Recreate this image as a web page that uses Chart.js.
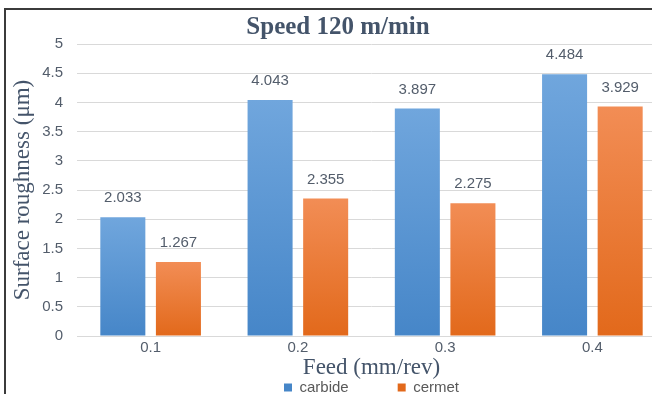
<!DOCTYPE html>
<html>
<head>
    <meta charset="UTF-8">
    <title>Speed 120 m/min</title>
    <style>
        html, body {
            margin: 0;
            padding: 0;
            background-color: white;
            overflow: hidden;
        }
        #wrap {
            position: relative;
            width: 652px;
            height: 394px;
            overflow: hidden;
        }
        /* frame of the original figure, cut at right and bottom */
        #frame {
            position: absolute;
            left: 4px;
            top: 8px;
            width: 700px;
            height: 420px;
            border-left: 2px solid #3b3b3b;
            border-top: 2px solid #3b3b3b;
        }
        #chartBox {
            position: absolute;
            left: 0;
            top: 0;
            width: 684px;
            height: 405px;
        }
    </style>
    <script src="https://cdn.jsdelivr.net/npm/chart.js"></script>
</head>
<body>
<div id="wrap">
    <div id="frame"></div>
    <div id="chartBox">
        <canvas id="barChart" width="684" height="405"></canvas>
    </div>
</div>
<script>
    // values
    const feeds = ['0.1', '0.2', '0.3', '0.4'];
    const carbide = [2.033, 4.043, 3.897, 4.484];
    const cermet = [1.267, 2.355, 2.275, 3.929];

    const textColor = '#535d6b';
    const titleColor = '#44546a';

    // light at the top of each bar, darker at the base
    function barGradient(top, bottom) {
        return function (context) {
            const chart = context.chart;
            const yScale = chart.scales.y;
            if (context.type !== 'data' || !yScale) return bottom;
            const yTop = yScale.getPixelForValue(context.raw);
            const yBase = yScale.getPixelForValue(0);
            const g = chart.ctx.createLinearGradient(0, yTop, 0, yBase);
            g.addColorStop(0, top);
            g.addColorStop(1, bottom);
            return g;
        };
    }

    // value printed above every bar
    const valueLabels = {
        id: 'valueLabels',
        afterDatasetsDraw(chart) {
            const ctx = chart.ctx;
            ctx.save();
            ctx.font = '15px "Liberation Sans", Arial, sans-serif';
            ctx.fillStyle = textColor;
            ctx.textAlign = 'center';
            ctx.textBaseline = 'middle';
            chart.data.datasets.forEach(function (ds, i) {
                chart.getDatasetMeta(i).data.forEach(function (bar, j) {
                    ctx.fillText(ds.data[j].toFixed(3), bar.x, bar.y - 19);
                });
            });
            ctx.restore();
        }
    };

    const ctx = document.getElementById('barChart');
    const chart = new Chart(ctx, {
        type: 'bar',
        data: {
            labels: feeds,
            datasets: [{
                label: 'carbide\u2003\u2003\u2003',
                data: carbide,
                backgroundColor: barGradient('#70a6dd', '#4686c8'),
                barPercentage: 0.81,
                categoryPercentage: 0.755
            }, {
                label: 'cermet',
                data: cermet,
                backgroundColor: barGradient('#f28d55', '#e2691b'),
                barPercentage: 0.81,
                categoryPercentage: 0.755
            }]
        },
        options: {
            responsive: false,
            animation: false,
            layout: {
                padding: { left: 10, right: 18, top: 0, bottom: 0 }
            },
            plugins: {
                title: {
                    display: true,
                    text: 'Speed 120 m/min',
                    color: titleColor,
                    font: { family: '"Liberation Serif", "Times New Roman", serif', size: 25, weight: 'bold', lineHeight: 1.2 },
                    padding: { top: 13, bottom: 1 }
                },
                legend: {
                    position: 'bottom',
                    fullSize: false,
                    labels: {
                        boxWidth: 8,
                        boxHeight: 8,
                        padding: 4,
                        color: '#595959',
                        font: { family: '"Liberation Sans", Arial, sans-serif', size: 15 }
                    }
                },
                tooltip: { enabled: false }
            },
            scales: {
                x: {
                    grid: { display: false, drawTicks: false },
                    border: { display: true, color: '#d9d9d9' },
                    ticks: {
                        color: textColor,
                        padding: 3,
                        font: { family: '"Liberation Sans", Arial, sans-serif', size: 15 }
                    },
                    title: {
                        display: true,
                        text: 'Feed (mm/rev)',
                        color: titleColor,
                        font: { family: '"Liberation Serif", "Times New Roman", serif', size: 23, lineHeight: 1.2 },
                        padding: { top: 0, bottom: -6 }
                    },
                    afterFit: function (scale) { scale.height = 40; }
                },
                y: {
                    min: 0,
                    max: 5,
                    grid: { color: '#d9d9d9', drawTicks: false },
                    border: { display: false },
                    ticks: {
                        stepSize: 0.5,
                        color: textColor,
                        padding: 14,
                        font: { family: '"Liberation Sans", Arial, sans-serif', size: 15 },
                        callback: function (value) { return String(Math.round(value * 10) / 10); }
                    },
                    title: {
                        display: true,
                        text: 'Surface roughness (\u03bcm)',
                        color: titleColor,
                        font: { family: '"Liberation Serif", "Times New Roman", serif', size: 23, lineHeight: 1.1 },
                        padding: { top: 0, bottom: 0 }
                    },
                    afterFit: function (scale) { scale.width = 67; }
                }
            }
        },
        plugins: [valueLabels]
    });
</script>
</body>
</html>
